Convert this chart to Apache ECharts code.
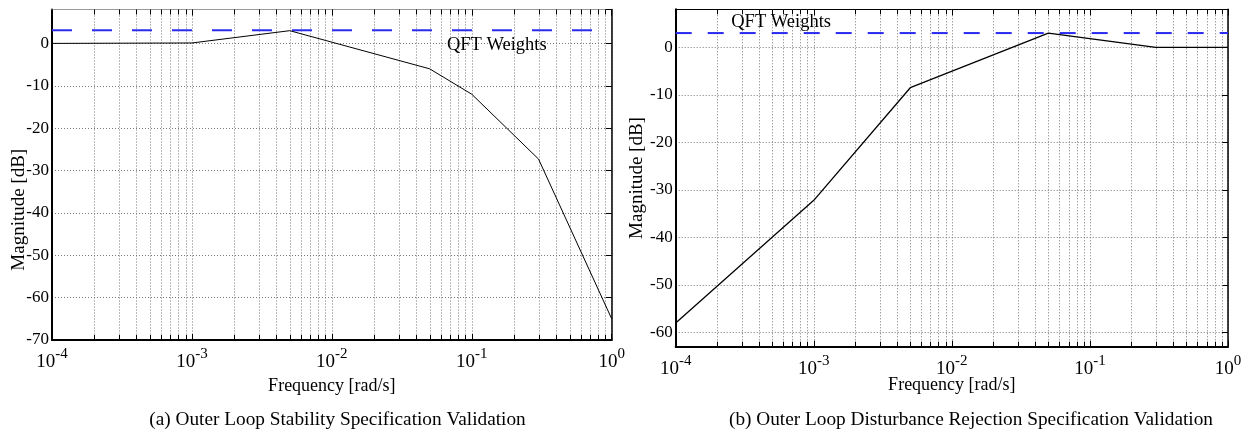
<!DOCTYPE html>
<html><head><meta charset="utf-8">
<script src="https://cdn.jsdelivr.net/npm/echarts@6/dist/echarts.min.js"></script>
<style>html,body{margin:0;padding:0;background:#fff}#c{width:1245px;height:435px}</style>
</head><body><div id="c"></div>
<script>
// ---- data ----
const freqA = [0.0001, 0.001, 0.005, 0.05, 0.1, 0.3, 1];
const magA  = [0, 0.1, 3, -6, -12, -27.3, -65];
const freqB = [0.0001, 0.001, 0.005, 0.05, 0.3, 1];
const magB  = [-58, -32.2, -8.5, 3, 0, 0];
const weightFreq = [0.0001, 1];
const weightA = [3.1, 3.1];
const weightB = [3, 3];
const xTickExponents = [-4, -3, -2, -1, 0];
const yTicksA = [-70, -60, -50, -40, -30, -20, -10, 0];
const yTicksB = [-60, -50, -40, -30, -20, -10, 0];
const captionA = '(a) Outer Loop Stability Specification Validation';
const captionB = '(b) Outer Loop Disturbance Rejection Specification Validation';
const weightLabel = 'QFT Weights';

// minor log grid positions (2..9 per decade)
const minorFreqs = [];
for (let d = -4; d < 0; d++) for (let m = 2; m <= 9; m++) minorFreqs.push(m * Math.pow(10, d));

const SERIF = '"Liberation Serif", "Times New Roman", serif';

function pairs(xs, ys) { return xs.map((x, i) => [x, ys[i]]); }

function minorGrid(params, api) {
  const cs = params.coordSys;
  const x = Math.round(api.coord([api.value(0), api.value(1)])[0]) + 0.5;
  const top = cs.y, bot = cs.y + cs.height;
  return { type: 'group', children: [
    { type: 'line', shape: { x1: x, y1: top, x2: x, y2: bot }, style: { stroke: '#777', lineWidth: 1, lineDash: [1, 2] } },
    { type: 'line', shape: { x1: x, y1: bot, x2: x, y2: bot - 5 }, style: { stroke: '#000', lineWidth: 1 } },
    { type: 'line', shape: { x1: x, y1: top, x2: x, y2: top + 5 }, style: { stroke: '#000', lineWidth: 1 } }
  ]};
}

function xBottom(gi, labelMargin, nameGap) {
  return {
    type: 'log', logBase: 10, gridIndex: gi, min: 0.0001, max: 1, position: 'bottom',
    axisLine: { show: true, onZero: false, lineStyle: { color: '#000', width: 2 } },
    axisTick: { show: true, inside: true, length: 6, lineStyle: { color: '#000' } },
    minorTick: { show: false },
    splitLine: { show: true, lineStyle: { color: '#777', width: 1, type: [1, 2] } },
    axisLabel: {
      margin: labelMargin, color: '#000', showMinLabel: true, showMaxLabel: true,
      formatter: v => {
        const e = Math.round(Math.log10(v));
        return xTickExponents.indexOf(e) >= 0 ? '{b|10}{s|' + e + '}' : '';
      },
      rich: {
        b: { fontFamily: SERIF, fontSize: 19, color: '#000', lineHeight: 20 },
        s: { fontFamily: SERIF, fontSize: 15, color: '#000', lineHeight: 15, padding: [0, 0, 16, 0] }
      }
    },
    name: 'Frequency [rad/s]', nameLocation: 'middle', nameGap: nameGap, nameMoveOverlap: false,
    nameTextStyle: { fontFamily: SERIF, fontSize: 18, color: '#000' }
  };
}
function xTop(gi, color) {
  return {
    type: 'log', logBase: 10, gridIndex: gi, min: 0.0001, max: 1, position: 'top',
    axisLine: { show: true, onZero: false, lineStyle: { color: color, width: 1 } },
    axisTick: { show: true, inside: true, length: 6, lineStyle: { color: '#000' } },
    axisLabel: { show: false }, splitLine: { show: false }
  };
}
function yLeft(gi, min, ticks, nameGap, namePad, extra) {
  return Object.assign({
    type: 'value', gridIndex: gi, min: min, max: 8, position: 'left',
    axisLine: { show: true, onZero: false, lineStyle: { color: '#000', width: 2 } },
    axisTick: { show: false },
    splitLine: { show: true, lineStyle: { color: '#777', width: 1, type: [1, 2] } },
    axisLabel: {
      margin: 3, color: '#000', fontFamily: SERIF, fontSize: 17,
      formatter: v => ticks.indexOf(Math.round(v)) >= 0 && Math.abs(v - Math.round(v)) < 1e-6 ? String(Math.round(v)) : ''
    },
    name: 'Magnitude [dB]', nameLocation: 'middle', nameRotate: 90, nameGap: nameGap, nameMoveOverlap: false,
    nameTextStyle: { fontFamily: SERIF, fontSize: 19, color: '#000', padding: namePad }
  }, extra);
}
function yRight(gi, min, extra) {
  return Object.assign({
    type: 'value', gridIndex: gi, min: min, max: 8, position: 'right',
    axisLine: { show: true, onZero: false, lineStyle: { color: '#000', width: 1.5 } },
    axisTick: { show: true, inside: true, length: 6, lineStyle: { color: '#000' } },
    axisLabel: { show: false }, splitLine: { show: false }
  }, extra);
}

const chart = echarts.init(document.getElementById('c'), null, { renderer: 'canvas' });
chart.setOption({
  backgroundColor: '#fff',
  animation: false,
  grid: [
    { left: 52, top: 9.5, width: 559.7, height: 330.5, containLabel: false, outerBoundsMode: 'none' },
    { left: 675.7, top: 9.3, width: 552.3, height: 337.4, containLabel: false, outerBoundsMode: 'none' }
  ],
  xAxis: [ xBottom(0, 12, 37), xTop(0, '#999'), xBottom(1, 12, 30), xTop(1, '#000') ],
  yAxis: [
    yLeft(0, -70, yTicksA, 23, [0, 70, 0, 0], { interval: 10 }), yRight(0, -70, { interval: 10 }),
    yLeft(1, -63, yTicksB, 29, [0, 0, 0, 0], { splitNumber: 7 }), yRight(1, -63, { splitNumber: 7 })
  ],
  graphic: [
    { type: 'text', x: 337.5, y: 420, style: { text: captionA, fontFamily: SERIF, fontSize: 19.3, fill: '#000', align: 'center', verticalAlign: 'middle' } },
    { type: 'text', x: 971, y: 420, style: { text: captionB, fontFamily: SERIF, fontSize: 19.3, fill: '#000', align: 'center', verticalAlign: 'middle' } }
  ],
  series: [
    { type: 'custom', xAxisIndex: 0, yAxisIndex: 0, renderItem: minorGrid, data: minorFreqs.map(f => [f, -10]), silent: true, z: 1 },
    { type: 'custom', xAxisIndex: 2, yAxisIndex: 2, renderItem: minorGrid, data: minorFreqs.map(f => [f, -10]), silent: true, z: 1 },
    { type: 'line', xAxisIndex: 0, yAxisIndex: 0, data: pairs(weightFreq, weightA), symbol: 'none', z: 3,
      lineStyle: { color: '#2a2af0', width: 2, type: [20, 20] },
      markPoint: { symbol: 'circle', symbolSize: 1, itemStyle: { color: 'rgba(0,0,0,0)' }, silent: true,
        label: { show: true, position: 'inside', formatter: weightLabel, color: '#000', fontFamily: SERIF, fontSize: 18.5 },
        data: [{ coord: [0.151, -0.5] }] } },
    { type: 'line', xAxisIndex: 0, yAxisIndex: 0, data: pairs(freqA, magA), symbol: 'none', z: 4,
      lineStyle: { color: '#000', width: 1 } },
    { type: 'line', xAxisIndex: 2, yAxisIndex: 2, data: pairs(weightFreq, weightB), symbol: 'none', z: 3,
      lineStyle: { color: '#2a2af0', width: 2, type: [16, 16] },
      markPoint: { symbol: 'circle', symbolSize: 1, itemStyle: { color: 'rgba(0,0,0,0)' }, silent: true,
        label: { show: true, position: 'inside', formatter: weightLabel, color: '#000', fontFamily: SERIF, fontSize: 18.5 },
        data: [{ coord: [0.00058, 5.25] }] } },
    { type: 'line', xAxisIndex: 2, yAxisIndex: 2, data: pairs(freqB, magB), symbol: 'none', z: 4,
      lineStyle: { color: '#000', width: 1.3 } }
  ]
});
</script></body></html>
